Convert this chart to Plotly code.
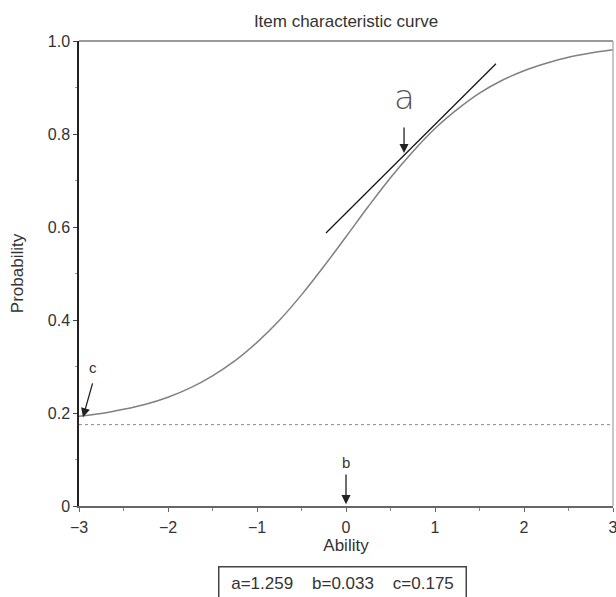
import plotly.graph_objects as go

# ICC values
ability = [-3.0, -2.75, -2.5, -2.25, -2.0, -1.75, -1.5, -1.25, -1.0, -0.75, -0.5, -0.25,
           0.0, 0.25, 0.5, 0.75, 1.0, 1.25, 1.5, 1.75, 2.0, 2.25, 2.5, 2.75, 3.0]
probability = [0.193, 0.199, 0.208, 0.219, 0.234, 0.254, 0.280, 0.312, 0.352, 0.399, 0.454, 0.515,
               0.579, 0.644, 0.706, 0.762, 0.812, 0.853, 0.888, 0.915, 0.936, 0.952, 0.965, 0.974, 0.981]

# guessing parameter baseline
c_level = 0.175
baseline_x = [-3, 3]

# tangent line at the inflection region (slope = a)
tangent_x = [-0.225, 1.685]
tangent_y = [0.587, 0.951]

# annotation arrows: (label, label_x, label_y, tail_x, tail_y, tip_x, tip_y)
arrow_c = ("c", -2.84, 0.297, -2.843, 0.267, -2.955, 0.191)
arrow_b = ("b", 0.0, 0.094, 0.0, 0.071, 0.0, 0.004)
arrow_a = ("a", 0.652, 0.88, 0.652, 0.817, 0.652, 0.759)

x_ticks = [-3, -2, -1, 0, 1, 2, 3]
x_ticktext = ["\u22123", "\u22122", "\u22121", "0", "1", "2", "3"]
y_ticks = [0, 0.2, 0.4, 0.6, 0.8, 1.0]
y_ticktext = ["0", "0.2", "0.4", "0.6", "0.8", "1.0"]

param_text = "a=1.259\u00a0\u00a0\u00a0 b=0.033\u00a0\u00a0\u00a0 c=0.175"

FONT = "Liberation Sans, Arial, sans-serif"
TXT = "#333333"

fig = go.Figure()
fig.add_trace(go.Scatter(x=baseline_x, y=[c_level, c_level], mode="lines",
                         line=dict(color="#8a8a8a", width=1, dash="3px,3px"),
                         hoverinfo="skip", showlegend=False))
fig.add_trace(go.Scatter(x=ability, y=probability, mode="lines",
                         line=dict(color="#808080", width=1.5, shape="spline"),
                         showlegend=False))
fig.add_trace(go.Scatter(x=tangent_x, y=tangent_y, mode="lines",
                         line=dict(color="#111111", width=1.2),
                         showlegend=False))

for lab, lx, ly, tx, ty, hx, hy in [arrow_c, arrow_b]:
    fig.add_annotation(x=hx, y=hy, ax=tx, ay=ty, xref="x", yref="y", axref="x", ayref="y",
                       showarrow=True, arrowhead=2, arrowsize=1.4, arrowwidth=1.3,
                       arrowcolor="#222222", text="")
    fig.add_annotation(x=lx, y=ly, xref="x", yref="y", text=lab, showarrow=False,
                       font=dict(family=FONT, size=15, color=TXT))

lab, lx, ly, tx, ty, hx, hy = arrow_a
fig.add_annotation(x=hx, y=hy, ax=tx, ay=ty, xref="x", yref="y", axref="x", ayref="y",
                   showarrow=True, arrowhead=2, arrowsize=1.4, arrowwidth=1.3,
                   arrowcolor="#222222", text="")
fig.add_annotation(x=lx, y=ly, xref="x", yref="y", text=lab, showarrow=False,
                   font=dict(family="DejaVu Sans", size=34, color="#555555", weight=200))

fig.add_annotation(x=0.494, y=-0.166, xref="paper", yref="paper", text=param_text,
                   xanchor="center", yanchor="middle",
                   showarrow=False, font=dict(family=FONT, size=17, color=TXT),
                   bordercolor="#444444", borderwidth=1.5, borderpad=3,
                   width=240, height=26, bgcolor="white")

# top and right frame lines (lighter)
fig.add_shape(type="line", xref="paper", yref="paper", x0=0, x1=1, y0=1, y1=1,
              line=dict(color="#9a9a9a", width=2))
fig.add_shape(type="line", xref="paper", yref="paper", x0=1, x1=1, y0=0, y1=1,
              line=dict(color="#b5b5b5", width=1.5))

fig.update_layout(
    width=616, height=597,
    margin=dict(l=79, r=3, t=41, b=91),
    paper_bgcolor="white", plot_bgcolor="white",
    title=dict(text="Item characteristic curve", x=0.5, xref="paper", y=1, yref="container",
               yanchor="top", pad=dict(t=15),
               font=dict(family=FONT, size=17, color=TXT)),
    xaxis=dict(range=[-3, 3], tickvals=x_ticks, ticktext=x_ticktext, automargin=False,
               showgrid=False, zeroline=False, showline=True, linecolor="#666666", linewidth=2,
               ticks="outside", ticklen=4, tickcolor="#666666", ticklabelstandoff=2,
               ticklabeloverflow="allow",
               minor=dict(dtick=0.5, ticks="outside", ticklen=3, tickcolor="#888888"),
               tickfont=dict(family=FONT, size=16, color=TXT),
               title=dict(text="Ability", standoff=4, font=dict(family=FONT, size=17, color=TXT))),
    yaxis=dict(range=[0, 1], tickvals=y_ticks, ticktext=y_ticktext, automargin=False,
               showgrid=False, zeroline=False, showline=True, linecolor="#222222", linewidth=1.5,
               ticks="outside", ticklen=4, tickcolor="#444444",
               minor=dict(dtick=0.1, ticks="outside", ticklen=2, tickcolor="#999999"),
               tickfont=dict(family=FONT, size=16, color=TXT),
               title=dict(text="Probability", standoff=20, font=dict(family=FONT, size=17, color=TXT))),
)

fig.write_html("out.html")
